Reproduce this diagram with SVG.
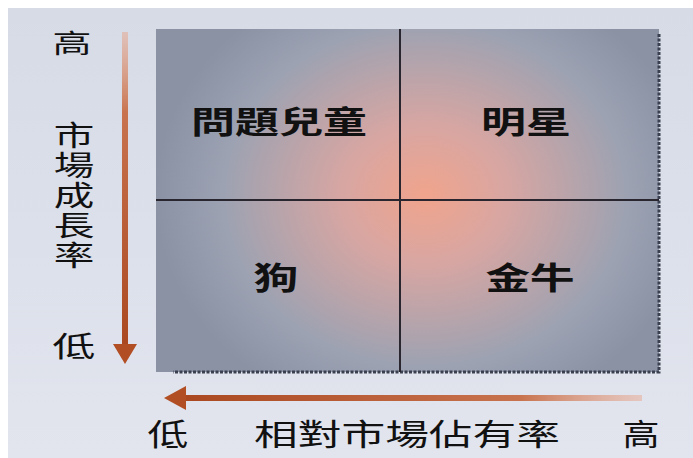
<svg xmlns="http://www.w3.org/2000/svg" width="693" height="458" viewBox="0 0 693 458">
<defs>
<radialGradient id="glow" cx="425" cy="195" r="270" gradientTransform="translate(425 195) scale(1 0.85) translate(-425 -195)" gradientUnits="userSpaceOnUse">
<stop offset="0" stop-color="#f0a48c"/>
<stop offset="0.3" stop-color="#d8a6a2"/>
<stop offset="0.75" stop-color="#9ca2b2"/>
<stop offset="1" stop-color="#8a92a4"/>
</radialGradient>
<linearGradient id="bg" x1="0" y1="0" x2="0" y2="1">
<stop offset="0" stop-color="#d6dbe6"/>
<stop offset="1" stop-color="#e2e5ee"/>
</linearGradient>
<linearGradient id="vArrow" x1="0" y1="30" x2="0" y2="360" gradientUnits="userSpaceOnUse">
<stop offset="0" stop-color="#e8a890" stop-opacity="0.5"/>
<stop offset="0.25" stop-color="#c8734e"/>
<stop offset="1" stop-color="#a8461e"/>
</linearGradient>
<linearGradient id="hArrow" x1="640" y1="0" x2="165" y2="0" gradientUnits="userSpaceOnUse">
<stop offset="0" stop-color="#e8a890" stop-opacity="0.5"/>
<stop offset="0.25" stop-color="#c8734e"/>
<stop offset="1" stop-color="#a8461e"/>
</linearGradient>
<filter id="soft" x="-20%" y="-20%" width="140%" height="140%">
<feGaussianBlur stdDeviation="1.5"/>
</filter>
</defs>
<style>
.q{font-family:"Noto Sans CJK TC","Noto Sans CJK SC",sans-serif;font-size:31px;font-weight:bold;fill:#111;text-anchor:middle}
.ax{font-family:"Noto Sans CJK TC","Noto Sans CJK SC",sans-serif;fill:#111;text-anchor:middle}
.div{stroke:#2a2630;stroke-width:2}
</style>
<rect x="0" y="0" width="693" height="458" fill="#ffffff"/>
<rect x="8" y="8" width="685" height="450" fill="url(#bg)"/>
<g id="matrix">
<rect x="156" y="29" width="503" height="343" fill="url(#glow)"/>
<path d="M659 34 V372 H173" fill="none" stroke="#3a4050" stroke-width="3" stroke-dasharray="3 1.5"/>
<line class="div" x1="400" y1="29" x2="400" y2="372"/>
<line class="div" x1="156" y1="200" x2="659" y2="200"/>
</g>
<g id="q-question">
<text class="q" x="279" y="133" textLength="176" lengthAdjust="spacingAndGlyphs">問題兒童</text>
</g>
<g id="q-star">
<text class="q" x="526" y="133" textLength="90" lengthAdjust="spacingAndGlyphs">明星</text>
</g>
<g id="q-dog">
<text class="q" x="276" y="289" textLength="45" lengthAdjust="spacingAndGlyphs">狗</text>
</g>
<g id="q-cow">
<text class="q" x="530" y="289" textLength="89" lengthAdjust="spacingAndGlyphs">金牛</text>
</g>
<g id="connectors">
<line x1="125" y1="32" x2="125" y2="346" stroke="#f0b8a0" stroke-width="12" stroke-opacity="0.5" filter="url(#soft)"/>
<line x1="125" y1="32" x2="125" y2="346" stroke="url(#vArrow)" stroke-width="6"/>
<path d="M113 344 L137 344 L125 364 Z" fill="#b24e24"/>
<line x1="185" y1="398" x2="642" y2="398" stroke="#f0b8a0" stroke-width="12" stroke-opacity="0.5" filter="url(#soft)"/>
<line x1="185" y1="398" x2="642" y2="398" stroke="url(#hArrow)" stroke-width="6"/>
<path d="M186 386 L186 410 L164 398 Z" fill="#b24e24"/>
</g>
<g id="y-axis-labels">
<text class="ax" x="72" y="53" font-size="26" textLength="39" lengthAdjust="spacingAndGlyphs">高</text>
<g transform="translate(74 0) scale(1.45 1)">
<text x="0" y="121" font-family="'Noto Sans CJK TC','Noto Sans CJK SC',sans-serif" font-size="28" fill="#111" writing-mode="vertical-rl" letter-spacing="2">市場成長率</text>
</g>
<text class="ax" x="74" y="357" font-size="28" textLength="43" lengthAdjust="spacingAndGlyphs">低</text>
</g>
<g id="x-axis-labels">
<text class="ax" x="168" y="445" font-size="30" textLength="41" lengthAdjust="spacingAndGlyphs">低</text>
<text class="ax" x="407" y="445" font-size="30" textLength="306" lengthAdjust="spacingAndGlyphs">相對市場佔有率</text>
<text class="ax" x="641" y="445" font-size="30" textLength="37" lengthAdjust="spacingAndGlyphs">高</text>
</g>
</svg>
